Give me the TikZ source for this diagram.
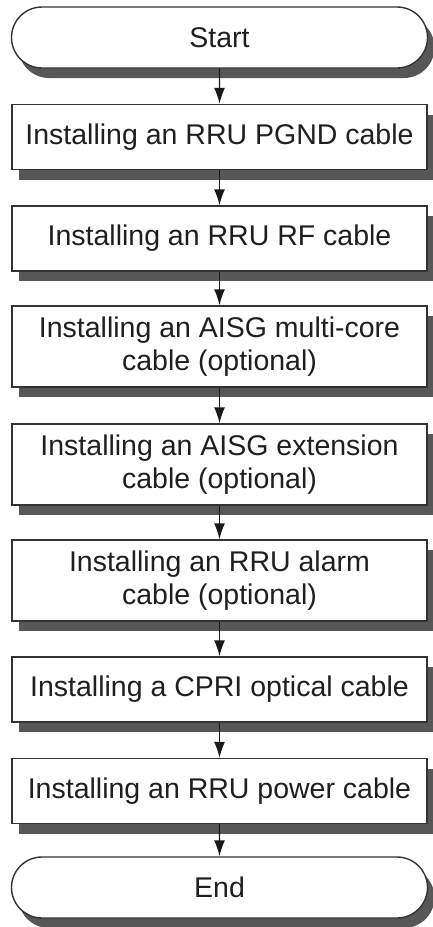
\documentclass[tikz,border=0pt]{standalone}
\usepackage{fontspec}
\setmainfont{Liberation Sans}
\usetikzlibrary{arrows.meta,shapes.misc,shadows}

\begin{document}
\begin{tikzpicture}[x=1pt,y=-1pt,
  stepbox/.style={draw=black!80,line width=1.4pt,fill=white,
    minimum width=415pt,minimum height=65pt,inner sep=0pt,align=center,
    text=black!88,font=\fontsize{28.5}{33}\selectfont,
    drop shadow={shadow xshift=7pt,shadow yshift=-10pt,fill=black!66,opacity=1}},
  tallbox/.style={stepbox,minimum height=81pt},
  endpoint/.style={stepbox,rounded rectangle,minimum width=416pt,minimum height=61pt},
  flow/.style={-{Latex[length=16pt,width=11pt]},line width=1.4pt,black!90}]
\useasboundingbox (0,0) rectangle (432,927);
\node[endpoint] (start) at (219.5,37.5) {Start};
\node[stepbox] (pgnd) at (219.5,137) {Installing an RRU PGND cable};
\node[stepbox] (rf) at (219.5,238.5) {Installing an RRU RF cable};
\node[tallbox] (multicore) at (219.5,346.5) {Installing an AISG multi-core\\cable (optional)};
\node[tallbox] (extension) at (219.5,464.5) {Installing an AISG extension\\cable (optional)};
\node[tallbox] (alarm) at (219.5,580.5) {Installing an RRU alarm\\cable (optional)};
\node[stepbox] (cpri) at (219.5,689.5) {Installing a CPRI optical cable};
\node[stepbox] (power) at (219.5,791) {Installing an RRU power cable};
\node[endpoint] (finish) at (219.5,887.5) {End};
\draw[flow] (start) -- (pgnd);
\draw[flow] (pgnd) -- (rf);
\draw[flow] (rf) -- (multicore);
\draw[flow] (multicore) -- (extension);
\draw[flow] (extension) -- (alarm);
\draw[flow] (alarm) -- (cpri);
\draw[flow] (cpri) -- (power);
\draw[flow] (power) -- (finish);
\end{tikzpicture}
\end{document}
